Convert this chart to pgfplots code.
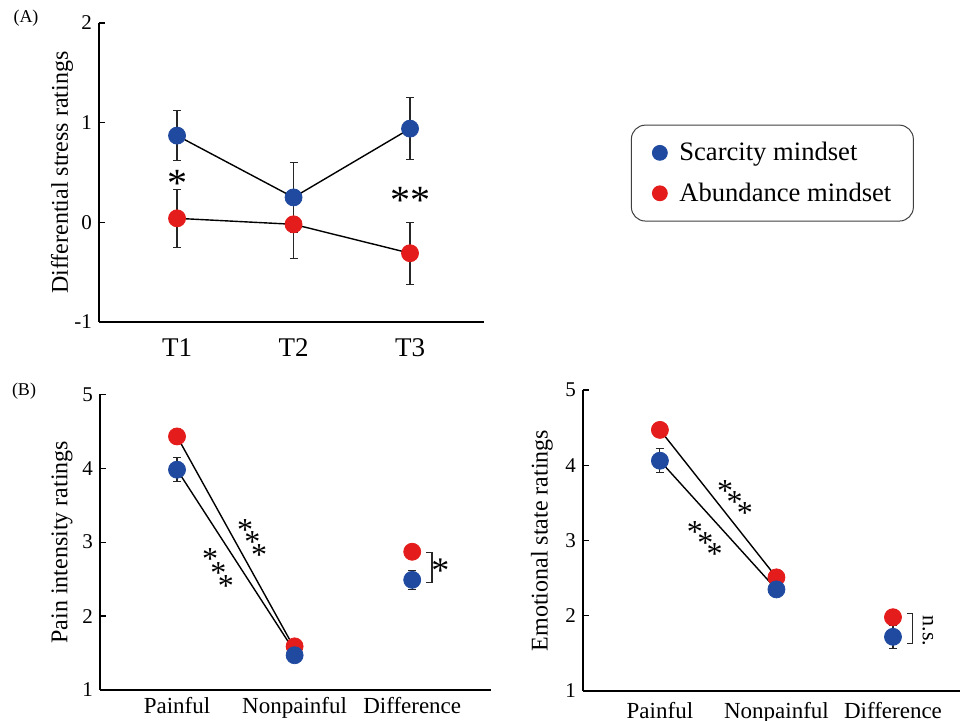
\documentclass[border=0pt]{standalone}
\usepackage{pgfplots}
\pgfplotsset{compat=1.18}
\usepackage{fontspec}
\setmainfont{Liberation Serif}
\definecolor{sblue}{RGB}{32,74,160}
\definecolor{ared}{RGB}{228,28,28}
\tikzset{stx/.style={inner sep=0pt, yshift={-0.195*#1pt}, font=\fontsize{#1}{#1}\selectfont}}
\pgfplotsset{
  myaxis/.style={
    scale only axis, anchor=south west, clip=false,
    axis x line*=bottom, axis y line*=left,
    x axis line style={-, line width=0.7pt},
    y axis line style={-, line width=0.7pt},
    tick align=inside,
    ytick style={line width=0.6pt, black},
    major tick length=3pt,
    xtick style={draw=none},
    xtick={1,2,3},
    /pgf/number format/assume math mode=true,
    yticklabel style={font=\fontsize{10.5}{12}\selectfont},
    ylabel style={font=\fontsize{12}{14}\selectfont, anchor=center},
  },
  mk/.style={only marks, mark=*, mark size=4.25pt, mark options={draw=#1, fill=#1}, forget plot},
  eb/.style={black, line width=0.7pt, mark=none, forget plot,
    error bars/.cd, y dir=both, y explicit,
    error bar style={line width=0.55pt, black!85},
    error mark options={rotate=90, mark size=2pt, line width=0.55pt, black!85}},
}
\begin{document}
\begin{tikzpicture}
\path[use as bounding box] (0,0) rectangle (480pt,360.5pt);
\node at (13pt,351.5pt) {\fontsize{9}{10}\selectfont (A)};
\node at (12pt,165pt) {\fontsize{9}{10}\selectfont (B)};

% Panel A
\begin{axis}[myaxis, at={(49.5pt,199.5pt)}, width=192.5pt, height=149.5pt,
  xmin=0.33, xmax=3.635, ymin=-1, ymax=2, ytick={-1,0,1,2},
  xticklabels={T1,T2,T3},
  xticklabel style={font=\fontsize{13.5}{15}\selectfont, yshift=-5pt},
  ylabel={Differential stress ratings},
  ylabel style={at={(axis description cs:-0.096,0.5)}},
  legend style={at={(1.749,0.498)}, anchor=center, draw=black!75, line width=0.5pt,
    rounded corners=7pt, inner xsep=9pt, inner ysep=6.5pt, row sep=5.5pt,
    font=\fontsize{13.3}{15}\selectfont},
  legend cell align=left,
  legend image code/.code={\path (-5pt,0pt) (7.5pt,0pt); \draw[#1] plot coordinates {(0pt,0pt)};},
]
\addplot[mk=ared] coordinates {(1,0.04) (2,-0.02) (3,-0.31)};
\addplot[mk=sblue] coordinates {(1,0.87) (2,0.25) (3,0.94)};
\addplot[eb] coordinates {(1,0.04) +- (0,0.29) (2,-0.02) +- (0,0.34) (3,-0.31) +- (0,0.31)};
\addplot[eb] coordinates {(1,0.87) +- (0,0.25) (2,0.25) +- (0,0.35) (3,0.94) +- (0,0.31)};
\addlegendimage{only marks, mark=*, mark size=3.7pt, mark options={draw=sblue, fill=sblue}}
\addlegendentry{Scarcity mindset}
\addlegendimage{only marks, mark=*, mark size=3.7pt, mark options={draw=ared, fill=ared}}
\addlegendentry{Abundance mindset}
\node[stx=20] at (axis cs:1,0.47) {*};
\node[stx=20] at (axis cs:3,0.30) {**};
\end{axis}

% Panel B left
\begin{axis}[myaxis, at={(50pt,15.5pt)}, width=195.5pt, height=147.85pt,
  xmin=0.345, xmax=3.67, ymin=1, ymax=5, ytick={1,2,3,4,5},
  xticklabels={Painful,Nonpainful,Difference},
  xticklabel style={font=\fontsize{11.5}{13}\selectfont},
  ylabel={Pain intensity ratings},
  ylabel style={at={(axis description cs:-0.097,0.5)}},
]
\addplot[mk=ared] coordinates {(1,4.43) (2,1.59) (3,2.87)};
\addplot[mk=sblue] coordinates {(1,3.98) (2,1.47) (3,2.49)};
\addplot[eb] coordinates {(1,4.43) +- (0,0.05) (2,1.56) +- (0,0.05)};
\addplot[eb] coordinates {(1,3.98) +- (0,0.16) (2,1.52) +- (0,0.05)};
\addplot[eb] coordinates {(3,2.87) +- (0,0.08)};
\addplot[eb] coordinates {(3,2.49) +- (0,0.13)};
\node[stx=16] at (axis cs:1.281,2.857) {*};
\node[stx=16] at (axis cs:1.352,2.667) {*};
\node[stx=16] at (axis cs:1.415,2.497) {*};
\node[stx=16] at (axis cs:1.579,3.254) {*};
\node[stx=16] at (axis cs:1.641,3.087) {*};
\node[stx=16] at (axis cs:1.698,2.907) {*};
\draw[line width=0.6pt, black!85] (axis cs:3.12,2.857) -- (axis cs:3.168,2.857) -- (axis cs:3.168,2.45) -- (axis cs:3.12,2.45);
\node[stx=18] at (axis cs:3.24,2.71) {*};
\end{axis}

% Panel B right
\begin{axis}[myaxis, at={(291.5pt,15pt)}, width=188.5pt, height=150.5pt,
  xmin=0.34, xmax=3.575, ymin=1, ymax=5, ytick={1,2,3,4,5},
  xticklabels={Painful,Nonpainful,Difference},
  xticklabel style={font=\fontsize{11.5}{13}\selectfont, yshift=-2pt},
  ylabel={Emotional state ratings},
  ylabel style={at={(axis description cs:-0.109,0.5)}},
]
\addplot[mk=ared] coordinates {(1,4.47) (2,2.51) (3,1.98)};
\addplot[mk=sblue] coordinates {(1,4.06) (2,2.35) (3,1.72)};
\addplot[eb] coordinates {(1,4.47) +- (0,0.05) (2,2.51) +- (0,0.05)};
\addplot[eb] coordinates {(1,4.06) +- (0,0.16) (2,2.35) +- (0,0.05)};
\addplot[eb] coordinates {(3,1.98) +- (0,0.10)};
\addplot[eb] coordinates {(3,1.72) +- (0,0.15)};
\node[stx=16] at (axis cs:1.30,3.19) {*};
\node[stx=16] at (axis cs:1.39,3.05) {*};
\node[stx=16] at (axis cs:1.47,2.90) {*};
\node[stx=16] at (axis cs:1.56,3.74) {*};
\node[stx=16] at (axis cs:1.64,3.59) {*};
\node[stx=16] at (axis cs:1.73,3.45) {*};
\draw[line width=0.6pt, black!85] (axis cs:3.12,2.03) -- (axis cs:3.17,2.03) -- (axis cs:3.17,1.63) -- (axis cs:3.12,1.63);
\node[rotate=-90, font=\fontsize{11}{12}\selectfont] at (axis cs:3.30,1.80) {n.s.};
\end{axis}
\end{tikzpicture}
\end{document}
